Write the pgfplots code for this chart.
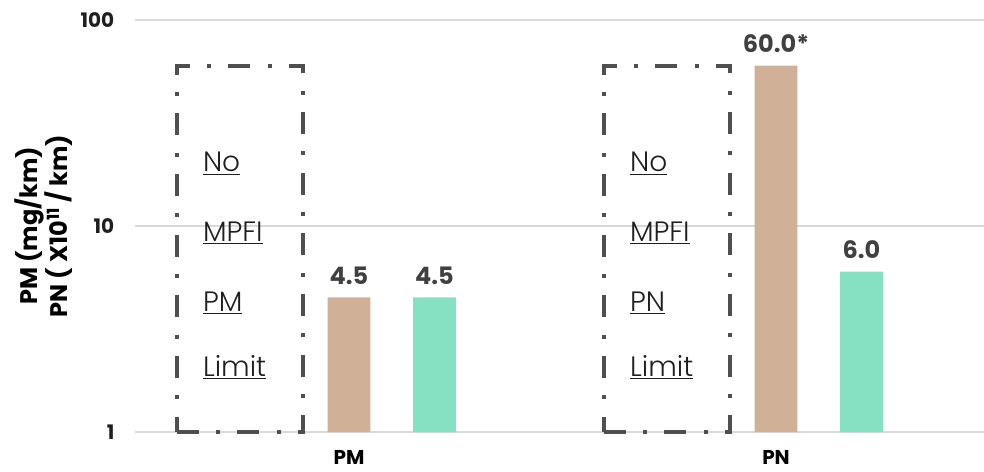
\documentclass[border=0pt]{standalone}
\usepackage{pgfplots}
\pgfplotsset{compat=1.18}
\usepackage{fontspec}
\setmainfont{Poppins}
\newfontfamily\lightfont{Poppins Light}

\definecolor{tanbar}{HTML}{D0B096}
\definecolor{tealbar}{HTML}{86E0C2}
\definecolor{gridgray}{HTML}{D9D9D9}
\definecolor{boxgray}{HTML}{4F4F4F}
\definecolor{lblgray}{HTML}{404040}
\definecolor{txtdark}{HTML}{1F1F1F}

\tikzset{boxtext/.style={anchor=base west, xshift=-113pt, font=\lightfont\fontsize{21}{24}\selectfont, text=txtdark}}

\begin{document}
\begin{tikzpicture}
\begin{axis}[
  width=636.75pt, height=309pt, scale only axis,
  ymode=log, ymin=1, ymax=100,
  xmin=-0.501, xmax=1.487,
  ytick={1,10,100}, yticklabels={1,10,100},
  xtick={0,1}, xticklabels={PM,PN},
  axis line style={draw=none},
  major tick style={draw=none}, minor tick style={draw=none},
  ymajorgrids, grid style={gridgray, line width=1.1pt},
  yticklabel style={font=\fontsize{15}{18}\selectfont\bfseries, text=txtdark, anchor=east, xshift=-12pt},
  xticklabel style={font=\fontsize{15}{18}\selectfont\bfseries, text=black, anchor=north, yshift=-6pt},
  ylabel={PM (mg/km)\\PN ( X10\textsuperscript{11} / km)},
  every axis y label/.style={at={(axis description cs:-0.1077,0.5)}, anchor=center, rotate=90,
    align=center, font=\fontsize{18}{20.5}\selectfont\bfseries, text=black},
  ybar, bar width=32pt,
  clip=false,
  nodes near coords style={font=\fontsize{18}{20}\selectfont\bfseries, text=lblgray, anchor=south, yshift=6pt},
]
% dash-dotted frames marking the missing limits
\addplot[ybar, draw=boxgray, fill=none, line width=3pt,
  dash pattern=on 16.5pt off 13pt on 3pt off 13pt,
  bar width=95pt, bar shift=-81.75pt]
  coordinates {(0,60) (1,60)};
% measured values
\addplot[ybar, fill=tanbar, draw=none, bar shift=0pt,
  nodes near coords, point meta=explicit symbolic]
  coordinates {(0,4.5) [4.5] (1,60) [60.0*]};
\addplot[ybar, fill=tealbar, draw=none, bar shift=64.1pt,
  nodes near coords, point meta=explicit symbolic]
  coordinates {(0,4.5) [4.5] (1,6) [6.0]};

% text inside the frames
\node[boxtext] at (axis cs:0,18.3) {\underline{No}};
\node[boxtext] at (axis cs:0,8.39) {\underline{MPFI}};
\node[boxtext] at (axis cs:0,3.84) {\underline{PM}};
\node[boxtext] at (axis cs:0,1.86) {\underline{Limit}};
\node[boxtext] at (axis cs:1,18.3) {\underline{No}};
\node[boxtext] at (axis cs:1,8.39) {\underline{MPFI}};
\node[boxtext] at (axis cs:1,3.84) {\underline{PN}};
\node[boxtext] at (axis cs:1,1.86) {\underline{Limit}};

\coordinate (bl) at (rel axis cs:0,0);
\coordinate (tr) at (rel axis cs:1,1);
\end{axis}
\pgfresetboundingbox
\path ([shift={(-101.25pt,-29.25pt)}]bl) rectangle ([shift={(0pt,15pt)}]tr);
\end{tikzpicture}
\end{document}
